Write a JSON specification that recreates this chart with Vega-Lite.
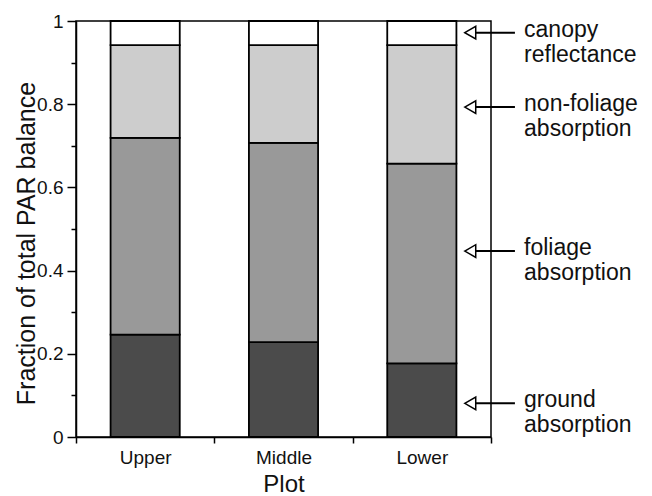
{
  "$schema": "https://vega.github.io/schema/vega-lite/v6.json",
  "width": 415,
  "height": 416,
  "autosize": "none",
  "padding": {"left": 76, "top": 21, "right": 161, "bottom": 59},
  "background": "white",
  "config": {
    "view": {"stroke": "black", "strokeWidth": 1.5},
    "font": "Liberation Sans",
    "axis": {
      "domainColor": "black", "domainWidth": 1.5,
      "tickColor": "black", "tickWidth": 1.5,
      "labelColor": "#111111", "titleColor": "#111111",
      "labelFont": "Liberation Sans", "titleFont": "Liberation Sans",
      "labelFontSize": 19, "titleFontSize": 24, "titleFontWeight": "normal",
      "grid": false
    }
  },
  "datasets": {
    "bars": [
      {"plot": "Upper", "component": "ground absorption", "rank": 1, "fraction": 0.246},
      {"plot": "Upper", "component": "foliage absorption", "rank": 2, "fraction": 0.473},
      {"plot": "Upper", "component": "non-foliage absorption", "rank": 3, "fraction": 0.223},
      {"plot": "Upper", "component": "canopy reflectance", "rank": 4, "fraction": 0.058},
      {"plot": "Middle", "component": "ground absorption", "rank": 1, "fraction": 0.228},
      {"plot": "Middle", "component": "foliage absorption", "rank": 2, "fraction": 0.479},
      {"plot": "Middle", "component": "non-foliage absorption", "rank": 3, "fraction": 0.235},
      {"plot": "Middle", "component": "canopy reflectance", "rank": 4, "fraction": 0.058},
      {"plot": "Lower", "component": "ground absorption", "rank": 1, "fraction": 0.177},
      {"plot": "Lower", "component": "foliage absorption", "rank": 2, "fraction": 0.480},
      {"plot": "Lower", "component": "non-foliage absorption", "rank": 3, "fraction": 0.285},
      {"plot": "Lower", "component": "canopy reflectance", "rank": 4, "fraction": 0.058}
    ],
    "notes": [
      {"label": "canopy\nreflectance", "y": 0.972},
      {"label": "non-foliage\nabsorption", "y": 0.793},
      {"label": "foliage\nabsorption", "y": 0.447},
      {"label": "ground\nabsorption", "y": 0.081}
    ]
  },
  "layer": [
    {
      "data": {"name": "bars"},
      "mark": {"type": "bar", "width": {"band": 0.5}, "stroke": "black", "strokeWidth": 1.8},
      "encoding": {
        "x": {
          "field": "plot", "type": "nominal", "sort": ["Upper", "Middle", "Lower"],
          "scale": {"paddingInner": 0, "paddingOuter": 0},
          "axis": {"title": "Plot", "labelAngle": 0, "tickBand": "extent", "tickSize": 6, "labelPadding": 5, "titlePadding": 5}
        },
        "y": {
          "field": "fraction", "type": "quantitative", "stack": "zero",
          "scale": {"domain": [0, 1], "nice": false},
          "axis": {
            "title": "Fraction of total PAR balance",
            "titleFontSize": 25,
            "values": [0, 0.1, 0.2, 0.3, 0.4, 0.5, 0.6, 0.7, 0.8, 0.9, 1],
            "tickSize": {"condition": {"test": "round(datum.value*10)%2 == 0", "value": 9}, "value": 5},
            "labelExpr": "round(datum.value*10)%2 == 0 ? format(datum.value, '~g') : ''",
            "labelPadding": 4,
            "titlePadding": -3,
            "titleY": 222
          }
        },
        "color": {
          "field": "component", "type": "nominal",
          "scale": {
            "domain": ["ground absorption", "foliage absorption", "non-foliage absorption", "canopy reflectance"],
            "range": ["#4b4b4b", "#999999", "#cdcdcd", "#ffffff"]
          },
          "legend": null
        },
        "order": {"field": "rank", "type": "quantitative"}
      }
    },
    {
      "data": {"name": "notes"},
      "encoding": {"y": {"field": "y", "type": "quantitative"}},
      "layer": [
        {
          "mark": {"type": "rule", "stroke": "black", "strokeWidth": 2},
          "encoding": {
            "x": {"datum": 2.88, "type": "quantitative", "scale": {"domain": [0, 3]}, "axis": null},
            "x2": {"datum": 3.173}
          }
        },
        {
          "mark": {"type": "point", "shape": "triangle-left", "size": 160, "filled": true, "fill": "white", "stroke": "black", "strokeWidth": 1.5, "opacity": 1},
          "encoding": {
            "x": {"datum": 2.85, "type": "quantitative", "scale": {"domain": [0, 3]}, "axis": null}
          }
        },
        {
          "mark": {"type": "text", "align": "left", "baseline": "middle", "dy": -3, "fontSize": 23, "lineHeight": 25, "lineBreak": "\n", "color": "#111111"},
          "encoding": {
            "x": {"datum": 3.239, "type": "quantitative", "scale": {"domain": [0, 3]}, "axis": null},
            "text": {"field": "label", "type": "nominal"}
          }
        }
      ]
    }
  ],
  "resolve": {"scale": {"x": "independent"}}
}
